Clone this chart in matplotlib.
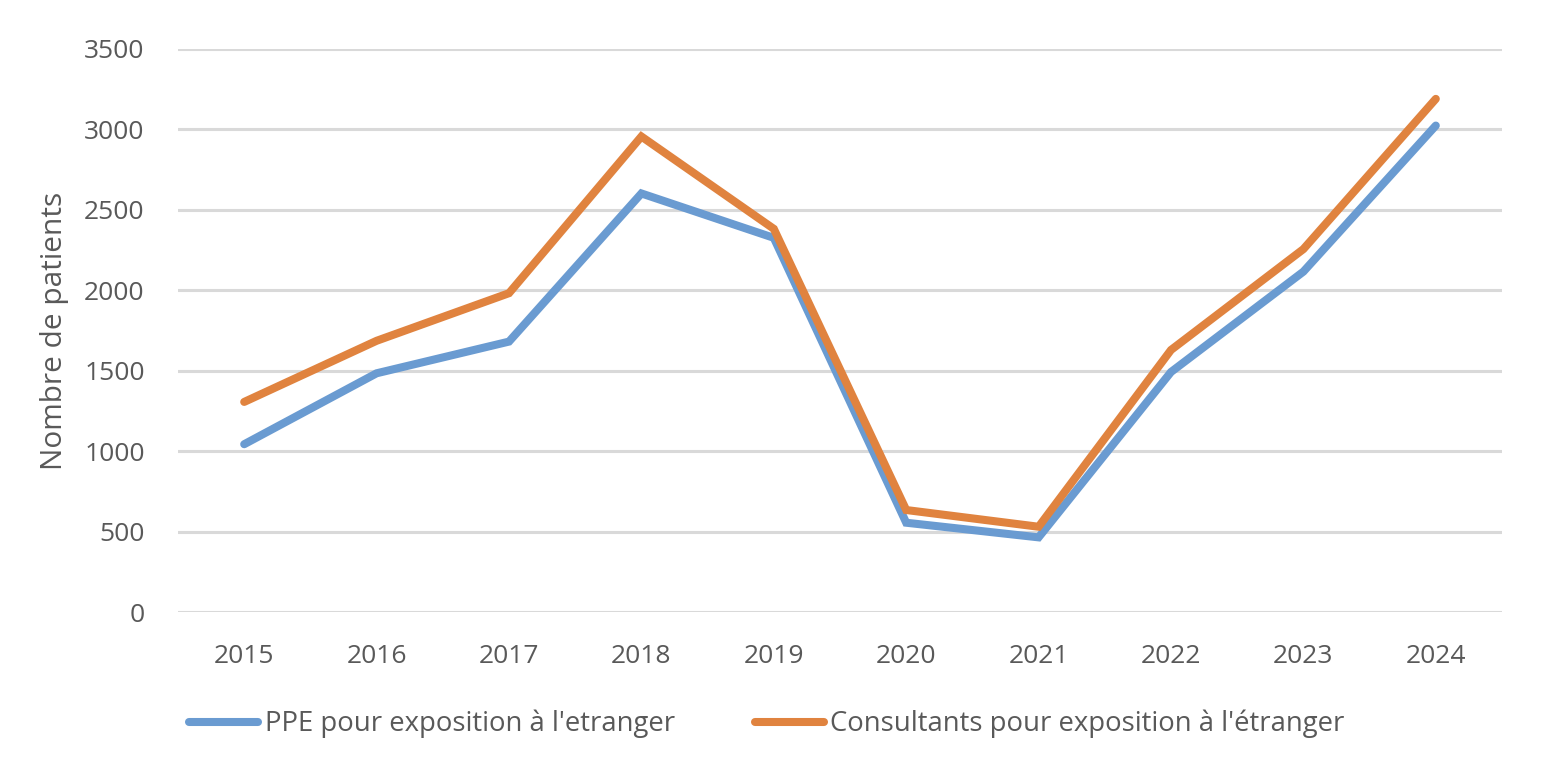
import matplotlib
matplotlib.use("Agg")
import matplotlib.pyplot as plt

years = ["2015", "2016", "2017", "2018", "2019", "2020", "2021", "2022", "2023", "2024"]
ppe = [1043, 1484, 1681, 2602, 2326, 555, 464, 1492, 2116, 3024]
consultants = [1306, 1686, 1982, 2956, 2382, 634, 530, 1629, 2256, 3190]

txt = "#595959"
plt.rcParams['font.family'] = ['Open Sans', 'DejaVu Sans']

fig = plt.figure(figsize=(15.42, 7.66), dpi=100)
ax = fig.add_axes([178/1542, 1 - 612/766, (1502-178)/1542, (612-49)/766])

x = range(len(years))
ax.plot(x, ppe, color="#6A9BD1", lw=5.8, solid_capstyle="round", solid_joinstyle="miter",
        label="PPE pour exposition à l'etranger")
ax.plot(x, consultants, color="#E0833F", lw=5.8, solid_capstyle="round", solid_joinstyle="miter",
        label="Consultants pour exposition à l'étranger")

ax.set_xlim(-0.5, len(years) - 0.5)
ax.set_ylim(0, 3500)
ax.set_yticks(range(0, 3501, 500))
ax.set_xticks(list(x))
ax.set_xticklabels(years)
ax.grid(axis="y", color="#D9D9D9", lw=2.2)
ax.set_axisbelow(True)
for s in ax.spines.values():
    s.set_visible(False)
ax.tick_params(length=0, labelsize=19, colors=txt, pad=23)
ax.tick_params(axis="y", pad=24)
ax.set_ylabel("Nombre de patients", fontsize=21.5, color=txt, labelpad=11)

leg = fig.legend(loc="center", bbox_to_anchor=(767/1542, 1 - 724/766), ncol=2, frameon=False,
                 fontsize=19.8, handlelength=2.5, handletextpad=0.25, columnspacing=2.9)
for t in leg.get_texts():
    t.set_color(txt)

fig.savefig("out.png", dpi=100)
